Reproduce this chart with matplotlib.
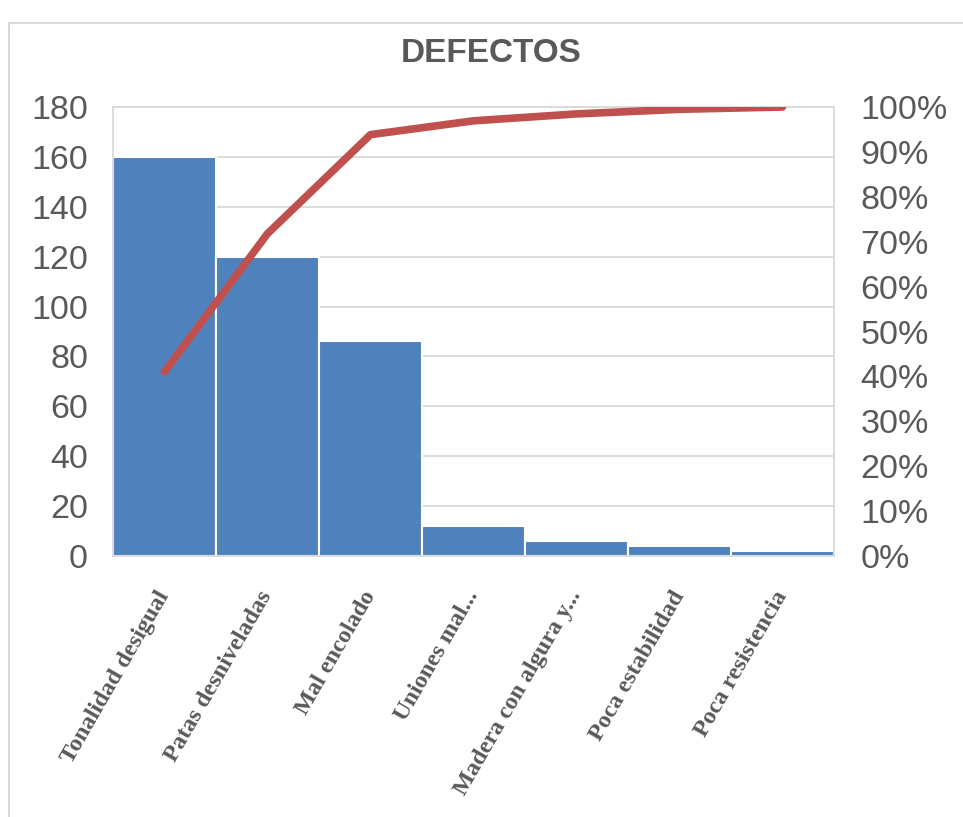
import matplotlib
matplotlib.use("Agg")
import matplotlib.pyplot as plt
from matplotlib.lines import Line2D
from matplotlib.ticker import FixedLocator

categories = ["Tonalidad desigual", "Patas desniveladas", "Mal encolado",
              "Uniones mal...", "Madera con algura y...", "Poca estabilidad",
              "Poca resistencia"]
counts = [160, 120, 86, 12, 6, 4, 2]
left_ticks = [0, 20, 40, 60, 80, 100, 120, 140, 160, 180]
right_ticks = [0.0, 0.1, 0.2, 0.3, 0.4, 0.5, 0.6, 0.7, 0.8, 0.9, 1.0]

BAR = "#4F81BD"
LINE = "#C0504D"
GRID = "#D9D9D9"
TEXT = "#595959"

# cumulative share for the pareto line
total = sum(counts)
cumulative = []
running = 0
for c in counts:
    running += c
    cumulative.append(running / total)

plt.rcParams["font.family"] = ["Liberation Sans", "DejaVu Sans"]

fig = plt.figure(figsize=(9.63, 8.17), dpi=100)
W, H = 963, 817
ax = fig.add_axes([113 / W, 1 - 556 / H, (834 - 113) / W, (556 - 107) / H])

x = list(range(len(categories)))
ax.bar(x, counts, width=1.0, color=BAR, edgecolor="white", linewidth=1.5, zorder=2)
ax.set_xlim(-0.5, len(categories) - 0.5)
ax.set_ylim(0, 180)
ax.set_yticks(left_ticks)
ax.yaxis.grid(True, color=GRID, linewidth=1.3, zorder=0)
ax.set_axisbelow(True)
for side in ax.spines.values():
    side.set_color(GRID)
    side.set_linewidth(1.3)
ax.tick_params(axis="y", length=0, pad=18, labelsize=24.5, labelcolor=TEXT)
ax.tick_params(axis="x", length=0, pad=26)
ax.set_xticks(x)
ax.set_xticklabels(categories, rotation=60, ha="right", va="center",
                   rotation_mode="anchor", family="Liberation Serif",
                   fontweight="bold", fontsize=17.5, color=TEXT)

ax2 = ax.twinx()
ax2.plot(x, cumulative, color=LINE, linewidth=5.5, solid_capstyle="round",
         solid_joinstyle="round", zorder=3)
ax2.set_ylim(0, 1)
ax2.yaxis.set_major_locator(FixedLocator(right_ticks))
ax2.set_yticklabels([f"{int(round(t * 100))}%" for t in right_ticks])
ax2.tick_params(axis="y", length=0, pad=19, labelsize=24.5, labelcolor=TEXT)
for side in ax2.spines.values():
    side.set_visible(False)

fig.text(491 / W, 1 - 53 / H, "DEFECTOS", ha="center", va="center",
         fontsize=24, fontweight="bold", color=TEXT)

# chart area frame (only top and left edges fall inside the image)
fig.add_artist(Line2D([9 / W, 9 / W], [0, 1 - 23 / H], transform=fig.transFigure,
                      color=GRID, linewidth=1.5))
fig.add_artist(Line2D([9 / W, 1], [1 - 23 / H, 1 - 23 / H], transform=fig.transFigure,
                      color=GRID, linewidth=1.5))

fig.savefig("out.png", dpi=100, facecolor="white")
